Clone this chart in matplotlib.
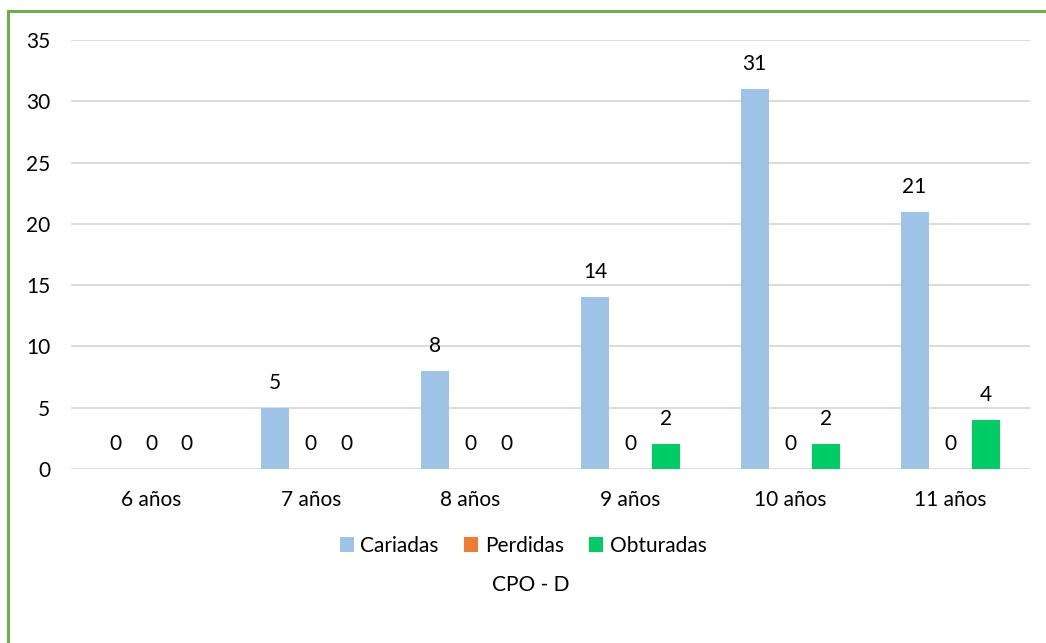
import matplotlib
matplotlib.use("Agg")
import matplotlib.pyplot as plt
import numpy as np
from matplotlib.patches import Rectangle, Patch

# Data
categories = ["6 años", "7 años", "8 años", "9 años", "10 años", "11 años"]
cariadas = [0, 5, 8, 14, 31, 21]
perdidas = [0, 0, 0, 0, 0, 0]
obturadas = [0, 0, 0, 2, 2, 4]
series_names = ["Cariadas", "Perdidas", "Obturadas"]
series_colors = ["#9DC3E6", "#ED7D31", "#00CC66"]

plt.rcParams['font.family'] = ['Lato', 'DejaVu Sans']
FS = 15

fig = plt.figure(figsize=(10.46, 6.43), dpi=100, facecolor='white')
ax = fig.add_axes([0.0679, 0.2706, 0.9168, 0.6672])

x = np.arange(len(categories))
width = 0.175
step = 0.222
for i, (vals, color) in enumerate(zip([cariadas, perdidas, obturadas], series_colors)):
    pos = x + (i - 1) * step
    ax.bar(pos, vals, width=width, color=color, zorder=3)
    for px, v in zip(pos, vals):
        ax.annotate(f"{v}", (px, v), xytext=(0, 18), textcoords='offset points',
                    ha='center', va='center', fontsize=FS, color='#000000')

ax.set_xlim(-0.5, len(categories) - 0.5)
ax.set_ylim(0, 35)
ax.set_yticks(range(0, 36, 5))
ax.set_xticks(x)
ax.set_xticklabels(categories)
ax.tick_params(axis='both', length=0, labelsize=FS, colors='#000000')
ax.tick_params(axis='y', pad=15)
ax.tick_params(axis='x', pad=15)

# Grid styling
ax.grid(True, axis='y', color='#D9D9D9', linewidth=1.3, zorder=0)
ax.set_axisbelow(True)
for spine in ax.spines.values():
    spine.set_visible(False)

handles = [Patch(facecolor=c, edgecolor='none') for c in series_colors]
fig.legend(handles, series_names, loc='center', bbox_to_anchor=(0.5, 1 - 546 / 643),
           ncol=3, frameon=False, fontsize=FS, handlelength=0.7, handleheight=0.7,
           handletextpad=0.3, columnspacing=1.2)

fig.text(0.507, 1 - 585 / 643, "CPO - D", ha='center', va='center', fontsize=FS)

# Outer frame
fig.patches.append(Rectangle((8 / 1046, -0.1), 1.2, 1 - 11 / 643 + 0.1,
                             transform=fig.transFigure, fill=False,
                             edgecolor='#70AD47', linewidth=2.2))

fig.savefig("out.png", dpi=100, facecolor='white')
